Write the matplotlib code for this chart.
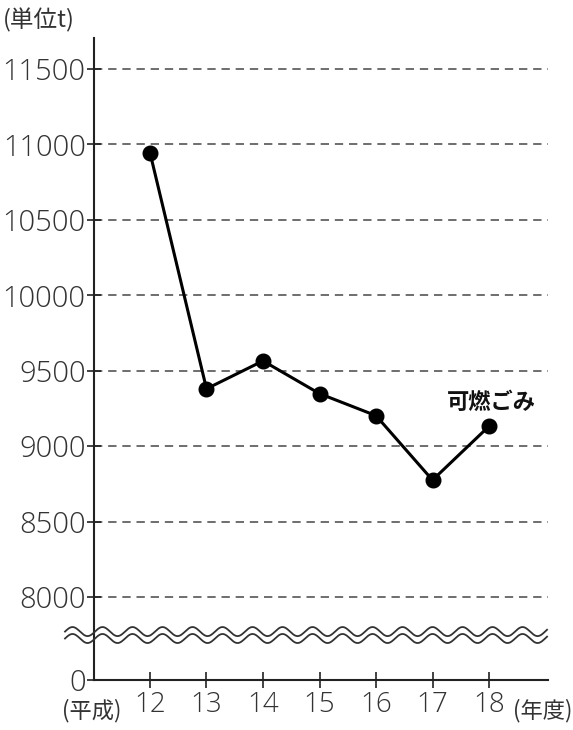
import numpy as np
import matplotlib
matplotlib.use("Agg")
import matplotlib.pyplot as plt

plt.rcParams['font.family'] = ['Noto Sans CJK JP', 'DejaVu Sans']

# 平成12〜18年度 可燃ごみ (t)
years = [12, 13, 14, 15, 16, 17, 18]
values = [10945, 9380, 9565, 9348, 9202, 8775, 9132]
yticks = [8000, 8500, 9000, 9500, 10000, 10500, 11000, 11500]
series_label = "可燃ごみ"

# broken axis: the "0" sits at this position on the plotted scale
ZERO_POS = 7450
YTOP = 11705
XL, XR = 11.009, 19.044

fig = plt.figure(figsize=(5.73, 7.30), dpi=100)
ax = fig.add_axes([94 / 573, 1 - 680 / 730, (548 - 94) / 573, (680 - 38) / 730])

ax.set_xlim(XL, XR)
ax.set_ylim(ZERO_POS, YTOP)

for v in yticks:
    ax.plot([XL, XR], [v, v], color="#555555", lw=1.2,
            dashes=(5, 3.5), zorder=1)

ax.plot(years, values, color="black", lw=2.2, marker="o", ms=10.5,
        mfc="black", mec="black", zorder=3)

ax.text(17.26, 9290, series_label, fontsize=16, fontweight="bold",
        ha="left", va="center", color="#111111")

# wavy break marks
wx = np.linspace(10.496, 19.027, 800)
period = 0.531
for base in (7771, 7725):
    wy = base + 30 * np.sin(2 * np.pi * (wx - 10.496) / period)
    ax.plot(wx, wy, color="#333333", lw=1.3, clip_on=False, zorder=4)

for s in ("top", "right"):
    ax.spines[s].set_visible(False)
for s in ("left", "bottom"):
    ax.spines[s].set_linewidth(1.5)
    ax.spines[s].set_color("#222222")

ax.set_yticks([ZERO_POS] + yticks)
ax.set_yticklabels(["0"] + [str(v) for v in yticks])
ax.set_xticks(years)
ax.set_xticklabels([str(y) for y in years])
ax.tick_params(axis="y", direction="inout", length=10, width=1.2,
               labelsize=21, pad=1, color="#222222", labelcolor="#333333")
ax.tick_params(axis="x", direction="inout", length=12, width=1.2,
               labelsize=20, pad=2, color="#222222", labelcolor="#333333")
for lab in ax.get_xticklabels() + ax.get_yticklabels():
    lab.set_family(["Open Sans", "DejaVu Sans"])
    lab.set_fontweight("light")

fig.text(3 / 573, 1 - 20 / 730, "(単位t)", fontsize=17, va="center",
         ha="left", color="#333333")
fig.text(62 / 573, 1 - 711 / 730, "(平成)", fontsize=16, va="center",
         ha="left", color="#333333")
fig.text(572 / 573, 1 - 711 / 730, "(年度)", fontsize=16, va="center",
         ha="right", color="#333333")

fig.savefig("out.png", dpi=100)
